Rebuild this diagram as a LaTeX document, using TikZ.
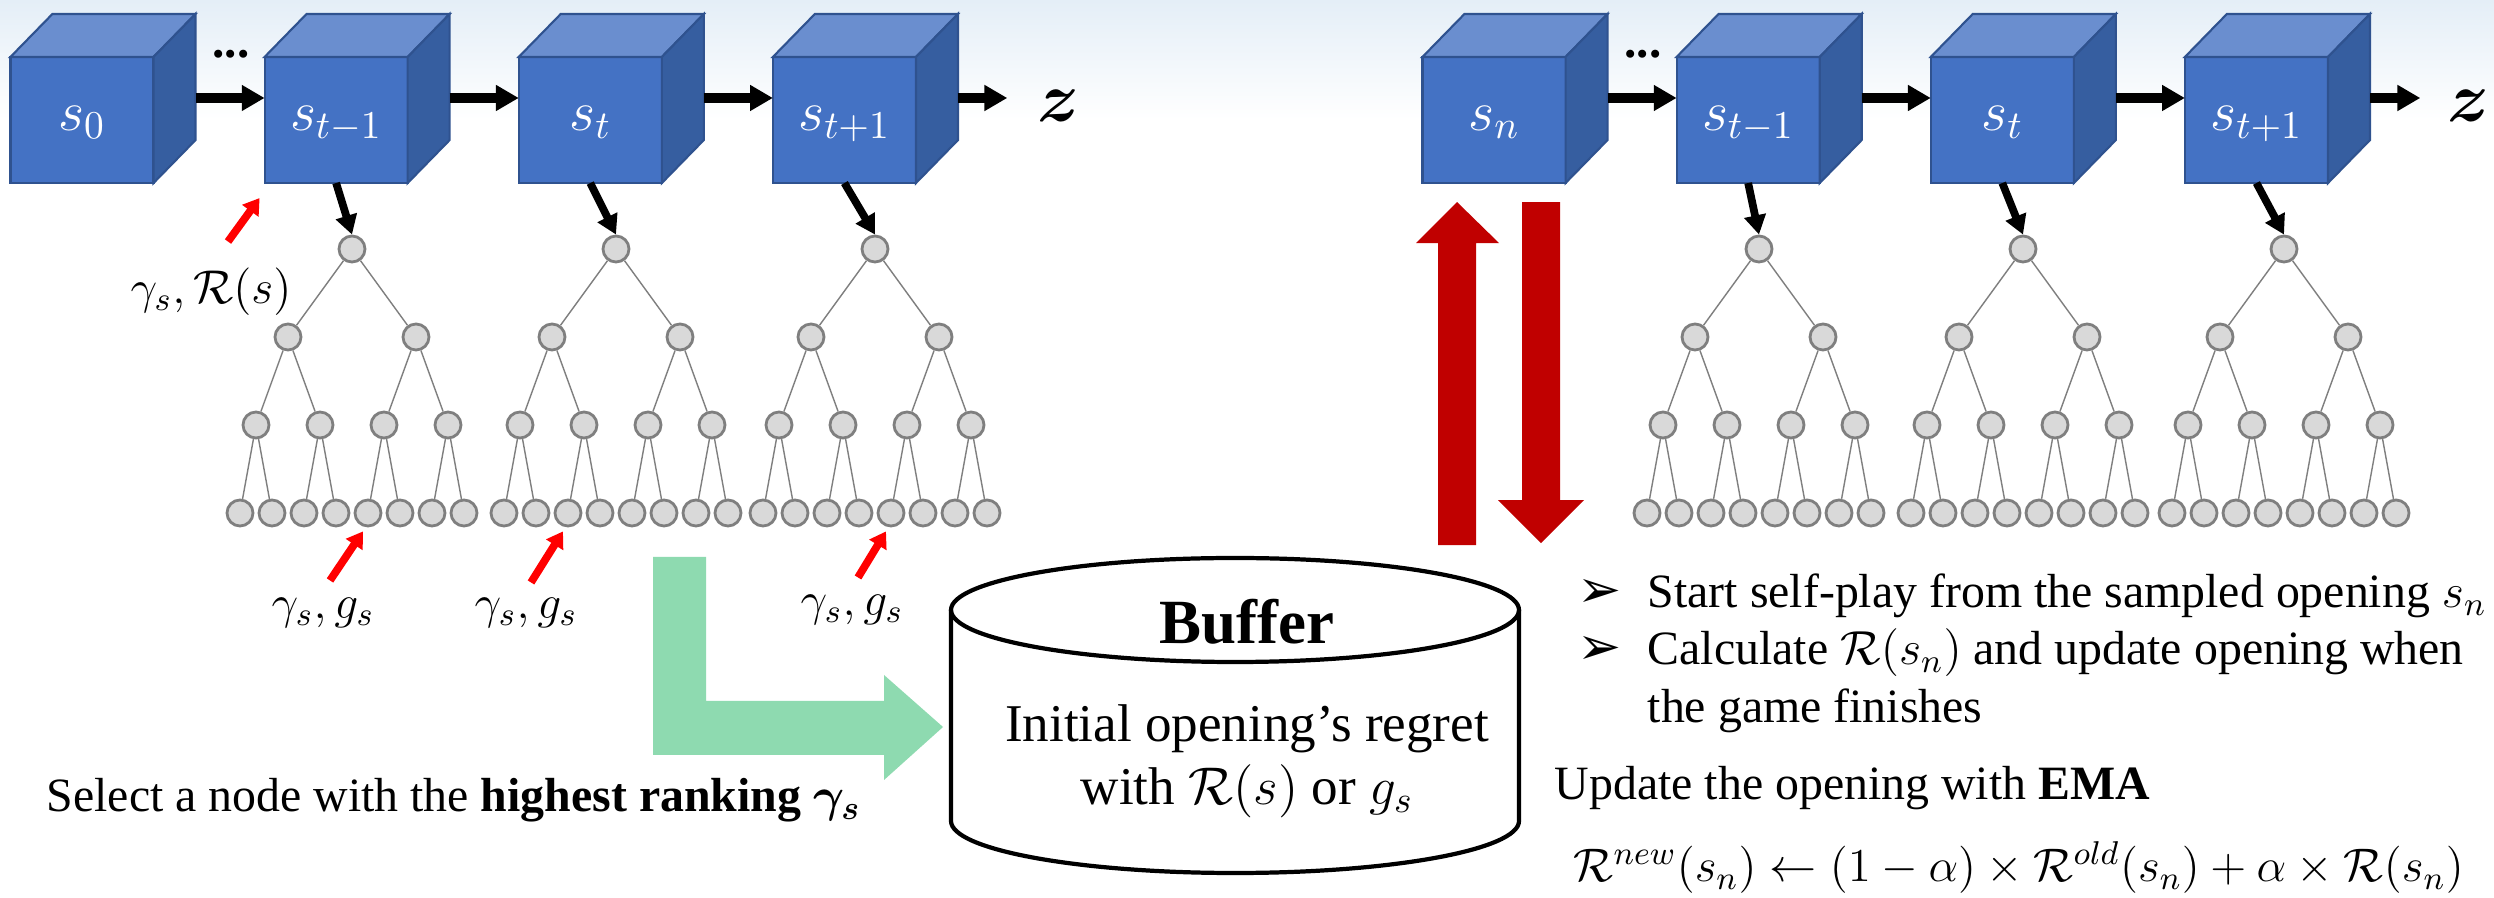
\RequirePackage{fix-cm}
\documentclass[tikz,border=0pt]{standalone}
\usepackage{amsmath, amssymb}
\usepackage{fontspec}
\setmainfont{Liberation Serif}
\newfontfamily\dingfont{DejaVu Sans}
\usetikzlibrary{positioning, calc, arrows.meta}

\definecolor{cubefront}{RGB}{68,114,196}
\definecolor{cubetop}{RGB}{106,142,207}
\definecolor{cubeside}{RGB}{54,94,160}
\definecolor{cubeedge}{RGB}{47,82,143}
\definecolor{leafgray}{RGB}{217,217,217}
\definecolor{edgegray}{RGB}{127,127,127}
\definecolor{mint}{RGB}{142,218,176}
\definecolor{darkred}{RGB}{192,0,0}
\definecolor{skytint}{RGB}{228,238,247}

% top and right faces around a cube node
\newcommand{\cubeshell}[1]{%
	\filldraw[cubeedge, fill=cubetop, line width=0.6pt] (#1.north west) -- ($(#1.north west)+(42,-43)$) -- ($(#1.north east)+(42,-43)$) -- (#1.north east) -- cycle;
	\filldraw[cubeedge, fill=cubeside, line width=0.6pt] (#1.north east) -- ($(#1.north east)+(42,-43)$) -- ($(#1.south east)+(42,-43)$) -- (#1.south east) -- cycle;
}

% binary search tree of depth 3 below a root
\newcommand{\mcts}[2]{%
	\node[leaf] (#1) at (#2) {};
	\foreach \ia/\da in {1/-64, 2/64} {
		\node[leaf] (#1-\ia) at ($(#1)+(\da,88)$) {};
		\draw[branch] (#1) -- (#1-\ia);
		\foreach \ib/\db in {1/-32, 2/32} {
			\node[leaf] (#1-\ia-\ib) at ($(#1-\ia)+(\db,88)$) {};
			\draw[branch] (#1-\ia) -- (#1-\ia-\ib);
			\foreach \ic/\dc in {1/-16, 2/16} {
				\node[leaf] (#1-\ia-\ib-\ic) at ($(#1-\ia-\ib)+(\dc,88)$) {};
				\draw[branch] (#1-\ia-\ib) -- (#1-\ia-\ib-\ic);
			}
		}
	}
}

\begin{document}
\begin{tikzpicture}[x=0.01cm, y=-0.01cm,
	cube/.style={rectangle, draw=cubeedge, fill=cubefront, line width=0.6pt, minimum width=1.43cm, minimum height=1.26cm, inner sep=0, outer sep=0, text=white, text height=0.8em, text depth=0.2em, font=\fontsize{16}{19}\selectfont},
	leaf/.style={circle, draw=edgegray, fill=leafgray, line width=0.8pt, minimum size=0.26cm, inner sep=0},
	branch/.style={edgegray, line width=0.4pt},
	flow/.style={line width=2.6pt, -{Triangle[width=7pt, length=6.5pt]}},
	drop/.style={line width=2.2pt, -{Triangle[width=6pt, length=5.5pt]}},
	pointer/.style={red, line width=2.2pt, -{Triangle[width=5.5pt, length=4.5pt]}},
	mathlabel/.style={inner sep=0, font=\fontsize{13.5}{16}\selectfont},
	bodytext/.style={inner sep=0, font=\fontsize{13.6}{16.4}\selectfont},
	tick/.style={inner sep=0, anchor=base east, font=\fontsize{15}{18}\dingfont},
	gapdots/.style={anchor=base, inner sep=0, font=\fontsize{14}{17}\selectfont\bfseries},
	bigz/.style={inner sep=0, font=\fontsize{20}{24}\selectfont}]

	\useasboundingbox (0,0) rectangle (2494,898);
	\fill[white] (0,0) rectangle (2494,898);
	\shade[top color=skytint, bottom color=white] (0,0) rectangle (2494,120);

	% game trajectory on the left
	\node[cube] (l0) at (82,120) {$s_0$};
	\node[cube, right=1.11cm of l0] (l1) {$s_{t-1}$};
	\node[cube, right=1.11cm of l1] (l2) {$s_t$};
	\node[cube, right=1.11cm of l2] (l3) {$s_{t+1}$};

	% self-play from the sampled opening
	\node[cube] (r0) at (1494,120) {$s_n$};
	\node[cube, right=1.11cm of r0] (r1) {$s_{t-1}$};
	\node[cube, right=1.11cm of r1] (r2) {$s_t$};
	\node[cube, right=1.11cm of r2] (r3) {$s_{t+1}$};

	\foreach \cb in {l0,l1,l2,l3,r0,r1,r2,r3} {
		\cubeshell{\cb}
	}

	\node[gapdots] (gapl) at (231,58) {...};
	\node[gapdots] (gapr) at (1643,58) {...};
	\node[bigz] (zl) at (1058,106) {$\boldsymbol{z}$};
	\node[bigz] (zr) at (2468,106) {$\boldsymbol{z}$};

	\foreach \a/\b in {l0/l1, l1/l2, l2/l3, r0/r1, r1/r2, r2/r3}
		\draw[flow] ($(\a.east)+(42,-22)$) -- ($(\b.west)+(0,-22)$);
	\draw[flow] ($(l3.east)+(42,-22)$) -- ($(zl.west)+(-29,-8)$);
	\draw[flow] ($(r3.east)+(42,-22)$) -- ($(zr.west)+(-26,-8)$);

	% search trees
	\mcts{tl1}{352,249}
	\mcts{tl2}{616,249}
	\mcts{tl3}{875,249}
	\mcts{tr1}{1759,249}
	\mcts{tr2}{2023,249}
	\mcts{tr3}{2284,249}

	\foreach \a/\b in {l1/tl1, l2/tl2, l3/tl3, r1/tr1, r2/tr2, r3/tr3}
		\draw[drop] (\a.south) -- (\b.north);

	% scores of the visited nodes
	\node[mathlabel] (gr) at (211,292) {$\gamma_s, \mathcal{R}(s)$};
	\node[mathlabel] (gl1) at (323,613) {$\gamma_s, g_s$};
	\node[mathlabel] (gl2) at (526,613) {$\gamma_s, g_s$};
	\node[mathlabel] (gl3) at (852,610) {$\gamma_s, g_s$};

	\draw[pointer] ($(gr.north)+(17,-26)$) -- ($(l1.south west)+(-5,15)$);
	\draw[pointer] ($(gl1.north)+(7,-17)$) -- ($(tl1-2-1-1.south)+(-5,4)$);
	\draw[pointer] ($(gl2.north)+(5,-15)$) -- ($(tl2-1-2-1.south)+(-5,4)$);
	\draw[pointer] ($(gl3.north)+(6,-17)$) -- ($(tl3-2-1-1.south)+(-5,4)$);

	% into the buffer
	\fill[mint] (653,557) -- (706,557) -- (706,701) -- (884,701) -- (884,675) -- (943,727) -- (884,780) -- (884,755) -- (653,755) -- cycle;

	\draw[line width=1.2pt] (951,610) -- (951,821) arc[start angle=180, end angle=0, x radius=284, y radius=52] -- (1519,610);
	\draw[line width=1.2pt] (1235,610) ellipse [x radius=284, y radius=52];
	\node[inner sep=0, font=\fontsize{17.9}{21}\selectfont\bfseries] (buftitle) at (1247,622) {Buffer};
	\node[inner sep=0, align=center, font=\fontsize{15.1}{17.9}\selectfont] (bufbody) at (1247,761) {Initial opening's regret\\with $\mathcal{R}(s)$ or $g_s$};

	\node[bodytext, anchor=base west] (pick) at (46,812) {Select a node with the \textbf{highest ranking} $\boldsymbol{\gamma_s}$};

	% sample an opening and send it back
	\begin{scope}[shift={(r0.south)}]
		\fill[darkred] (-56,362) -- (-56,60) -- (-78,60) -- (-37,19) -- (5,60) -- (-18,60) -- (-18,362) -- cycle;
		\fill[darkred] (28,19) -- (66,19) -- (66,317) -- (90,317) -- (47,360) -- (4,317) -- (28,317) -- cycle;
	\end{scope}

	\node[tick] (tick1) at (1622,608) {➢};
	\node[bodytext, anchor=base west] (step1) at (1647,608) {Start self-play from the sampled opening $s_n$};
	\node[tick] (tick2) at (1622,665) {➢};
	\node[bodytext, anchor=base west] (step2) at (1647,665) {Calculate $\mathcal{R}(s_n)$ and update opening when};
	\node[bodytext, anchor=base west] (step3) at (1647,723) {the game finishes};

	\node[bodytext, anchor=base west] (emahead) at (1554,800) {Update the opening with \textbf{EMA}};
	\node[inner sep=0, anchor=base west, font=\fontsize{13.4}{16}\selectfont] (emarule) at (1573,882) {$\mathcal{R}^{new}(s_n) \leftarrow (1-\alpha)\times\mathcal{R}^{old}(s_n)+\alpha\times\mathcal{R}(s_n)$};
\end{tikzpicture}
\end{document}
